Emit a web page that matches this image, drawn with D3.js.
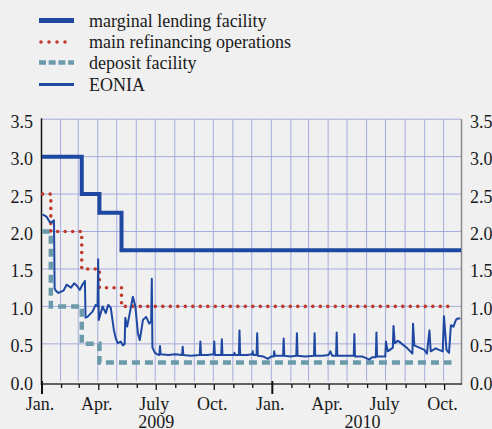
<!DOCTYPE html>
<html>
<head>
<meta charset="utf-8">
<script src="https://cdn.jsdelivr.net/npm/d3@7"></script>
<style>
  body { margin: 0; background: #f0f0f0; }
  svg { display: block; }
  text { font-family: "Liberation Serif", "Times New Roman", serif; fill: #1a1a1a; }
</style>
</head>
<body>
<svg id="chart" width="492" height="429"></svg>
<script>
// key ECB rates (step changes) and EONIA, percent
var mlfDates = ["2009-01-01", "2009-03-05", "2009-04-02", "2009-05-07", "2010-10-27"];
var mlfRates = [3.0, 2.5, 2.25, 1.75, 1.75];
var mroDates = ["2009-01-02", "2009-01-15", "2009-03-05", "2009-04-02", "2009-05-07", "2010-10-13"];
var mroRates = [2.5, 2.0, 1.5, 1.25, 1.0, 1.0];
var dfDates = ["2009-01-01", "2009-01-15", "2009-03-05", "2009-04-02", "2010-10-12"];
var dfRates = [2.0, 1.0, 0.5, 0.25, 0.25];

var eonia = [
  ["2009-01-02",2.23],["2009-01-08",2.20],["2009-01-13",2.13],["2009-01-16",2.12],["2009-01-20",2.15],
  ["2009-01-21",1.24],["2009-01-23",1.21],["2009-01-27",1.18],["2009-02-04",1.21],["2009-02-09",1.29],
  ["2009-02-16",1.25],["2009-02-21",1.31],["2009-02-26",1.27],["2009-03-02",1.22],["2009-03-06",1.29],
  ["2009-03-10",1.34],["2009-03-11",0.85],["2009-03-14",0.86],["2009-03-22",0.93],["2009-03-27",1.02],
  ["2009-03-30",1.00],["2009-03-31",1.63],["2009-04-01",0.82],["2009-04-07",1.00],["2009-04-12",0.91],
  ["2009-04-16",1.02],["2009-04-20",0.98],["2009-04-25",0.68],["2009-04-28",0.57],["2009-05-01",0.51],
  ["2009-05-06",0.53],["2009-05-09",0.48],["2009-05-12",0.50],["2009-05-13",0.85],["2009-05-16",0.73],
  ["2009-05-21",0.95],["2009-05-25",1.13],["2009-05-29",1.00],["2009-06-02",0.64],["2009-06-05",0.55],
  ["2009-06-10",0.82],["2009-06-15",0.86],["2009-06-20",0.77],["2009-06-23",0.80],["2009-06-24",1.37],
  ["2009-06-25",0.45],["2009-06-29",0.38],["2009-07-03",0.36],["2009-07-06",0.35],["2009-07-07",0.47],
  ["2009-07-08",0.36],["2009-07-20",0.35],["2009-07-31",0.36],["2009-08-11",0.35],["2009-08-12",0.46],
  ["2009-08-13",0.35],["2009-08-25",0.34],["2009-09-08",0.35],["2009-09-09",0.53],["2009-09-10",0.35],
  ["2009-09-20",0.35],["2009-09-30",0.36],["2009-10-01",0.53],["2009-10-02",0.35],["2009-10-12",0.35],
  ["2009-10-13",0.56],["2009-10-14",0.35],["2009-10-25",0.35],["2009-11-01",0.35],["2009-11-02",0.38],
  ["2009-11-03",0.35],["2009-11-09",0.35],["2009-11-10",0.68],["2009-11-11",0.35],["2009-11-22",0.35],
  ["2009-11-30",0.36],["2009-12-01",0.40],["2009-12-02",0.35],["2009-12-07",0.35],["2009-12-08",0.64],
  ["2009-12-09",0.34],["2009-12-18",0.33],["2009-12-25",0.30],["2009-12-30",0.33],
  ["2010-01-03",0.33],["2010-01-04",0.40],["2010-01-05",0.34],["2010-01-18",0.34],["2010-01-19",0.57],
  ["2010-01-20",0.34],["2010-01-30",0.33],["2010-02-08",0.34],["2010-02-09",0.64],["2010-02-10",0.34],
  ["2010-02-22",0.33],["2010-03-08",0.34],["2010-03-09",0.64],["2010-03-10",0.34],["2010-03-22",0.34],
  ["2010-03-31",0.35],["2010-04-03",0.40],["2010-04-06",0.34],["2010-04-12",0.34],["2010-04-13",0.65],
  ["2010-04-14",0.34],["2010-04-26",0.34],["2010-05-10",0.34],["2010-05-11",0.63],["2010-05-12",0.33],
  ["2010-05-24",0.33],["2010-06-04",0.29],["2010-06-08",0.32],["2010-06-14",0.32],["2010-06-15",0.65],
  ["2010-06-16",0.33],["2010-06-29",0.33],["2010-06-30",0.53],["2010-07-03",0.40],["2010-07-11",0.45],
  ["2010-07-12",0.74],["2010-07-14",0.51],["2010-07-19",0.54],["2010-07-21",0.53],["2010-08-03",0.44],
  ["2010-08-11",0.37],["2010-08-12",0.77],["2010-08-14",0.48],["2010-08-30",0.42],["2010-09-03",0.37],
  ["2010-09-07",0.68],["2010-09-09",0.40],["2010-09-17",0.44],["2010-09-22",0.42],["2010-09-28",0.40],
  ["2010-09-30",0.87],["2010-10-04",0.42],["2010-10-08",0.38],["2010-10-11",0.75],["2010-10-15",0.73],
  ["2010-10-19",0.82],["2010-10-22",0.84],["2010-10-26",0.84]
];

var yTicks = [0, 0.5, 1.0, 1.5, 2.0, 2.5, 3.0, 3.5];
var monthLabels = {0: "Jan.", 3: "Apr.", 6: "July", 9: "Oct."};
var yearLabels = [["2009-07-01", "2009"], ["2010-05-24", "2010"]];
var legendNames = ["marginal lending facility", "main refinancing operations", "deposit facility", "EONIA"];

var parse = d3.timeParse("%Y-%m-%d");
var svg = d3.select("#chart");

var x = d3.scaleTime()
  .domain([parse("2009-01-01"), parse("2010-10-27")])
  .range([42, 461]);
var y = d3.scaleLinear().domain([0, 3.5]).range([381.3, 119.2]);

var blue = "#1e48a2", red = "#c0392b", teal = "#6b9aab", grid = "#a4acde";

// grid
var months = d3.timeMonth.range(parse("2009-01-01"), parse("2010-10-27"));
svg.append("g").selectAll("line").data(months.slice(1)).enter().append("line")
  .attr("x1", function(d){ return x(d) - 1; }).attr("x2", function(d){ return x(d) - 1; })
  .attr("y1", y(3.5)).attr("y2", y(0))
  .attr("stroke", grid).attr("stroke-width", 1);
svg.append("g").selectAll("line").data(yTicks.slice(1)).enter().append("line")
  .attr("x1", 42).attr("x2", 461)
  .attr("y1", function(d){ return y(d); }).attr("y2", function(d){ return y(d); })
  .attr("stroke", grid).attr("stroke-width", 1);

// frame
svg.append("line").attr("x1", 461.5).attr("x2", 461.5).attr("y1", y(3.5)).attr("y2", 384.5)
  .attr("stroke", "#888").attr("stroke-width", 1.5);
svg.append("line").attr("x1", 41).attr("x2", 462).attr("y1", 384).attr("y2", 384)
  .attr("stroke", "#333").attr("stroke-width", 1.5);
svg.append("line").attr("x1", 41.5).attr("x2", 41.5).attr("y1", y(3.5) - 1).attr("y2", 385)
  .attr("stroke", "#111").attr("stroke-width", 1.5);

// month ticks
svg.append("g").selectAll("line").data(months).enter().append("line")
  .attr("x1", function(d){ return x(d); }).attr("x2", function(d){ return x(d); })
  .attr("y1", function(d){ return d.getMonth() === 0 ? 381 : 384; })
  .attr("y2", function(d){ return d.getMonth() === 0 ? 394 : (d.getMonth() % 3 === 0 ? 390 : 388); })
  .attr("stroke", "#111")
  .attr("stroke-width", function(d){ return d.getMonth() === 0 ? 2 : 1.3; });

// month and year labels
svg.append("g").selectAll("text").data(months.filter(function(d){ return d.getMonth() % 3 === 0; }))
  .enter().append("text")
  .attr("x", function(d){ return x(d) - 2; }).attr("y", 410)
  .attr("text-anchor", "middle").attr("font-size", 18)
  .text(function(d){ return monthLabels[d.getMonth()]; });
svg.append("g").selectAll("text").data(yearLabels).enter().append("text")
  .attr("x", function(d){ return x(parse(d[0])); }).attr("y", 428)
  .attr("text-anchor", "middle").attr("font-size", 18)
  .text(function(d){ return d[1]; });

// y labels, both sides
var fmt = d3.format(".1f");
svg.append("g").selectAll("text").data(yTicks).enter().append("text")
  .attr("x", 33).attr("y", function(d){ return y(d) + 8.5; })
  .attr("text-anchor", "end").attr("font-size", 18).text(fmt);
svg.append("g").selectAll("text").data(yTicks).enter().append("text")
  .attr("x", 470).attr("y", function(d){ return y(d) + 8.5; })
  .attr("text-anchor", "start").attr("font-size", 18).text(fmt);

// series
function zipSeries(dates, rates){
  return dates.map(function(d, i){ return [parse(d), rates[i]]; });
}
var step = d3.line().curve(d3.curveStepAfter)
  .x(function(d){ return x(d[0]); }).y(function(d){ return y(d[1]); });
var plain = d3.line()
  .x(function(d){ return x(d[0]); }).y(function(d){ return y(d[1]); });

svg.append("path").datum(zipSeries(dfDates, dfRates)).attr("d", step)
  .attr("fill", "none").attr("stroke", teal).attr("stroke-width", 4.5)
  .attr("stroke-dasharray", "8,5");
svg.append("path").datum(zipSeries(mroDates, mroRates)).attr("d", step)
  .attr("fill", "none").attr("stroke", red).attr("stroke-width", 3.6)
  .attr("stroke-linecap", "round").attr("stroke-dasharray", "0,7.5");
svg.append("path").datum(zipSeries(mlfDates, mlfRates)).attr("d", step)
  .attr("fill", "none").attr("stroke", blue).attr("stroke-width", 4);
svg.append("path").datum(eonia.map(function(d){ return [parse(d[0]), d[1]]; })).attr("d", plain)
  .attr("fill", "none").attr("stroke", blue).attr("stroke-width", 2)
  .attr("stroke-linejoin", "round");

// legend
var legendY = [20.5, 42, 62.5, 84.5];
var lg = svg.append("g").selectAll("g").data(legendNames).enter().append("g")
  .attr("transform", function(d, i){ return "translate(0," + legendY[i] + ")"; });
lg.append("line").attr("x1", function(d, i){ return i === 1 ? 41 : 39; })
  .attr("x2", function(d, i){ return i === 1 ? 73 : 74; })
  .attr("stroke", function(d, i){ return [blue, red, teal, blue][i]; })
  .attr("stroke-width", function(d, i){ return [5, 3.6, 4.5, 3][i]; })
  .attr("stroke-linecap", function(d, i){ return i === 1 ? "round" : "butt"; })
  .attr("stroke-dasharray", function(d, i){ return i === 1 ? "0,8" : (i === 2 ? "7,2.7" : null); });
lg.append("text").attr("x", 89).attr("y", 6).attr("font-size", 18)
  .text(function(d){ return d; });
</script>
</body>
</html>
